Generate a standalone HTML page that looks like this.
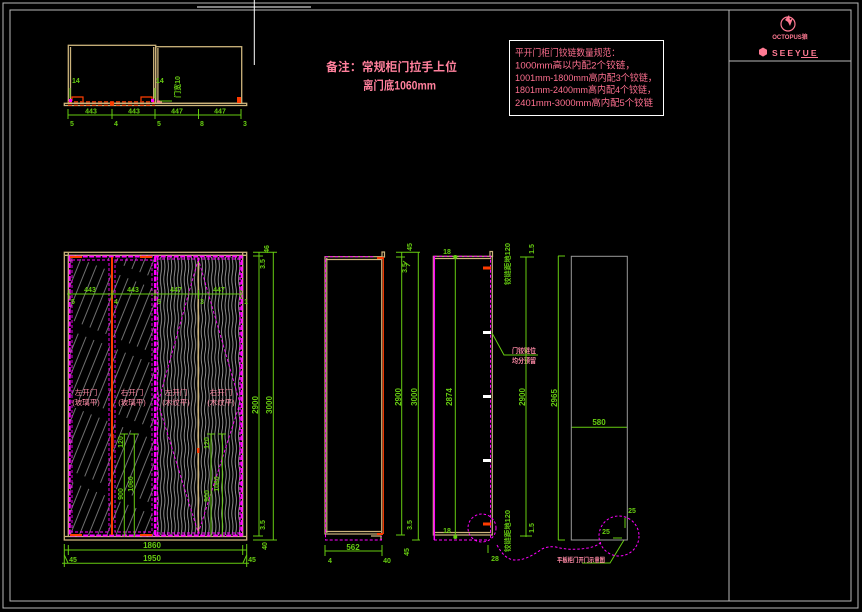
<!DOCTYPE html>
<html><head><meta charset="utf-8">
<style>
html,body{margin:0;padding:0;background:#000;}
svg{display:block;}
text{font-family:"Liberation Sans","Noto Sans CJK SC",sans-serif;}
</style></head>
<body>
<svg width="862" height="612" viewBox="0 0 862 612" xmlns="http://www.w3.org/2000/svg">
<defs>
<pattern id="glass" width="8.5" height="70" patternUnits="userSpaceOnUse" patternTransform="rotate(22)">
<line x1="2" y1="0" x2="2" y2="60" stroke="#a0a0a0" stroke-width="0.7"/>
</pattern>
<pattern id="wood" width="3.4" height="26" patternUnits="userSpaceOnUse">
<path d="M1.2,0 Q2.4,6.5 1.2,13 Q0,19.5 1.2,26" stroke="#b0b0b0" stroke-width="0.8" fill="none"/>
</pattern>
</defs>
<rect width="862" height="612" fill="#000"/>

<!-- frames -->
<g stroke="#b8b8b8" stroke-width="1" fill="none">
<rect x="3" y="3" width="855" height="605"/>
<rect x="10" y="10" width="841" height="591"/>
<line x1="729" y1="10" x2="729" y2="601"/>
<line x1="729" y1="61" x2="851" y2="61"/>
</g>
<!-- white crosshair -->
<g stroke="#fff" stroke-width="1">
<line x1="197" y1="7" x2="311" y2="7"/>
<line x1="254.3" y1="0" x2="254.3" y2="65"/>
</g>

<!-- logo -->
<g fill="#ff7a93" stroke="#ff7a93">
<circle cx="788" cy="24" r="7" fill="none" stroke-width="1.2"/>
<path d="M785,20 L789,15 L790,20 L793,18 L790,26 L788,22 Z" stroke="none"/>
<text x="790" y="39" font-size="6" font-weight="bold" text-anchor="middle" stroke="none">OCTOPUS狼</text>
<polygon points="763,47.5 767,49.8 767,54.3 763,56.6 759,54.3 759,49.8" stroke="none"/>
<text x="772" y="56" font-size="8.5" font-weight="bold" letter-spacing="2" stroke="none">SEEYUE</text>
<line x1="801" y1="57.5" x2="818" y2="57.5" stroke-width="1"/>
</g>

<!-- note -->
<g fill="#ff809c" font-weight="bold">
<text x="326" y="71" font-size="12" textLength="131" lengthAdjust="spacingAndGlyphs">备注：常规柜门拉手上位</text>
<text x="363" y="89.5" font-size="12" textLength="73" lengthAdjust="spacingAndGlyphs">离门底1060mm</text>
</g>

<!-- hinge spec box -->
<rect x="509.5" y="40.5" width="154" height="75" fill="none" stroke="#fff" stroke-width="1"/>
<g fill="#ff7090" font-size="9.5">
<text x="515" y="56" textLength="105" lengthAdjust="spacingAndGlyphs">平开门柜门铰链数量规范：</text>
<text x="515" y="68.5" textLength="120" lengthAdjust="spacingAndGlyphs">1000mm高以内配2个铰链，</text>
<text x="515" y="81" textLength="142" lengthAdjust="spacingAndGlyphs">1001mm-1800mm高内配3个铰链，</text>
<text x="515" y="93" textLength="141" lengthAdjust="spacingAndGlyphs">1801mm-2400mm高内配4个铰链，</text>
<text x="515" y="106" textLength="138" lengthAdjust="spacingAndGlyphs">2401mm-3000mm高内配5个铰链</text>
</g>

<!-- ========== top plan view ========== -->
<g stroke="#cdb47c" stroke-width="1.3" fill="none">
<rect x="68.3" y="45.3" width="87.4" height="58"/>
<line x1="70.5" y1="47" x2="70.5" y2="103"/>
<line x1="153.7" y1="47" x2="153.7" y2="103"/>
<rect x="155.7" y="46.7" width="86" height="56.6"/>
<line x1="157.9" y1="48" x2="157.9" y2="103"/>
<rect x="64.3" y="103.3" width="182.4" height="2.2"/>
</g>
<g stroke="#ff3c00" stroke-width="1.2" fill="none">
<line x1="68" y1="101.8" x2="155" y2="101.8" stroke-dasharray="4 2"/>
<line x1="68" y1="105.2" x2="155" y2="105.2" stroke-dasharray="4 2"/>
<path d="M72,101 V97 H83 V101 M141,101 V97 H152 V101"/>
</g>
<circle cx="112" cy="103.5" r="2.2" fill="#ff3c00"/>
<rect x="237" y="97" width="4" height="6" fill="#ff3c00"/>
<rect x="157" y="100.5" width="5" height="2" fill="#ff7a93"/>
<rect x="69" y="99" width="3" height="3" fill="#ff00ff"/>
<rect x="151" y="99" width="3" height="3" fill="#ff00ff"/>
<g fill="#66cc11" font-size="7" font-weight="bold">
<text x="72" y="83">14</text>
<text x="156" y="83">14</text>
<text transform="translate(180,87) rotate(-90)" text-anchor="middle" font-size="7">门宽10</text>
</g>
<g stroke="#66cc11" stroke-width="1" fill="none">
<line x1="70" y1="98" x2="70" y2="88"/>
<line x1="155" y1="98" x2="155" y2="88"/>
<line x1="160" y1="101" x2="172" y2="101"/>
<line x1="68" y1="115" x2="241" y2="115"/>
<line x1="68" y1="109" x2="68" y2="119"/>
<line x1="112" y1="109" x2="112" y2="119"/>
<line x1="155" y1="109" x2="155" y2="119"/>
<line x1="198.5" y1="109" x2="198.5" y2="119"/>
<line x1="241" y1="109" x2="241" y2="119"/>
</g>
<g fill="#66cc11" font-size="7" font-weight="bold" text-anchor="middle">
<text x="91" y="113.5">443</text>
<text x="134" y="113.5">443</text>
<text x="177" y="113.5">447</text>
<text x="220" y="113.5">447</text>
<text x="72" y="126">5</text>
<text x="116" y="126">4</text>
<text x="159" y="126">5</text>
<text x="202" y="126">8</text>
<text x="245" y="126">3</text>
</g>

<!-- ========== front elevation ========== -->
<rect x="70" y="258" width="84" height="277" fill="url(#glass)"/>
<rect x="157" y="257" width="84" height="278" fill="url(#wood)"/>
<g stroke="#cdb47c" stroke-width="1.3" fill="none">
<rect x="64.3" y="252.3" width="182.4" height="287.7"/>
<line x1="68.3" y1="253" x2="68.3" y2="536"/>
<line x1="242.7" y1="253" x2="242.7" y2="536"/>
<line x1="65" y1="255.3" x2="246" y2="255.3"/>
<line x1="65" y1="536.5" x2="246" y2="536.5"/>
<line x1="198.3" y1="258" x2="198.3" y2="533" stroke-width="1.6"/>
</g>
<g stroke="#ff00ff" fill="none">
<rect x="69.7" y="256.5" width="172" height="279" stroke-width="2" stroke-dasharray="5 1.5"/>
<line x1="155.2" y1="257" x2="155.2" y2="535" stroke-width="2.5" stroke-dasharray="5 1.5"/>
<line x1="157.5" y1="257" x2="157.5" y2="535" stroke-width="1.2" stroke-dasharray="3 2"/>
<line x1="240" y1="257" x2="240" y2="535" stroke-width="1.2" stroke-dasharray="3 2"/>
<rect x="72" y="260" width="37" height="272" stroke-width="0.9" stroke-dasharray="3 2"/>
<rect x="115" y="260" width="37" height="272" stroke-width="0.9" stroke-dasharray="3 2"/>
<line x1="157" y1="259" x2="241" y2="259" stroke-width="1" stroke-dasharray="3 2"/>
<line x1="157" y1="533" x2="241" y2="533" stroke-width="1" stroke-dasharray="3 2"/>
<path d="M198.3,259 L158,403 L198.3,533 L240,403 Z" stroke-width="0.9" stroke-dasharray="3 2"/>
</g>
<line x1="112" y1="257" x2="112" y2="535" stroke="#ff3c00" stroke-width="2"/>
<rect x="111" y="434" width="2.5" height="14" fill="#ff3c00"/>
<rect x="197" y="448" width="2.5" height="5" fill="#ff3c00"/>
<g fill="#ff3c00">
<rect x="70" y="256" width="12" height="2"/><rect x="140" y="256" width="12" height="2"/>
<rect x="70" y="534" width="12" height="2"/><rect x="140" y="534" width="12" height="2"/>
</g>
<!-- internal dim line -->
<g stroke="#66cc11" stroke-width="1" fill="none">
<line x1="67" y1="294" x2="243" y2="294"/>
<line x1="69" y1="290" x2="69" y2="299"/>
<line x1="112" y1="290" x2="112" y2="299"/>
<line x1="155" y1="290" x2="155" y2="299"/>
<line x1="198.5" y1="290" x2="198.5" y2="299"/>
<line x1="241" y1="290" x2="241" y2="299"/>
<!-- door handle dims -->
<line x1="124.3" y1="434" x2="124.3" y2="537"/>
<line x1="134.3" y1="434" x2="134.3" y2="537"/>
<line x1="120" y1="434" x2="128" y2="434"/>
<line x1="130" y1="434" x2="138" y2="434"/>
<line x1="211" y1="434" x2="211" y2="537"/>
<line x1="222.3" y1="434" x2="222.3" y2="537"/>
<line x1="207" y1="434" x2="215" y2="434"/>
<line x1="218" y1="434" x2="226" y2="434"/>
<!-- right dims -->
<line x1="259" y1="252.3" x2="259" y2="536"/>
<line x1="273.3" y1="252.3" x2="273.3" y2="540"/>
<line x1="253" y1="252.3" x2="277" y2="252.3"/>
<line x1="253" y1="256" x2="263" y2="256"/>
<line x1="253" y1="536" x2="263" y2="536"/>
<line x1="253" y1="540" x2="277" y2="540"/>
<!-- bottom dims -->
<line x1="64.3" y1="550" x2="246.7" y2="550"/>
<line x1="64.3" y1="544" x2="64.3" y2="567"/>
<line x1="68.3" y1="545" x2="68.3" y2="555"/>
<line x1="242.7" y1="545" x2="242.7" y2="555"/>
<line x1="246.7" y1="544" x2="246.7" y2="567"/>
<line x1="62" y1="563.3" x2="249" y2="563.3"/>
<line x1="64.3" y1="555" x2="68" y2="563"/>
<line x1="246.7" y1="555" x2="243" y2="563"/>
</g>
<g fill="#66cc11" font-size="7" font-weight="bold" text-anchor="middle">
<text x="90" y="292">443</text>
<text x="133" y="292">443</text>
<text x="176" y="292">447</text>
<text x="219" y="292">447</text>
<text x="73" y="304">5</text>
<text x="116" y="304">4</text>
<text x="159" y="304">5</text>
<text x="202" y="304">3</text>
<text x="246" y="304">1</text>
<text transform="translate(123,442) rotate(-90)">120</text>
<text transform="translate(123,494) rotate(-90)">900</text>
<text transform="translate(133,484) rotate(-90)">1060</text>
<text transform="translate(209,443) rotate(-90)">120</text>
<text transform="translate(219,484) rotate(-90)">1060</text>
<text transform="translate(209,496) rotate(-90)">900</text>
<text transform="translate(258,405) rotate(-90)" font-size="8">2900</text>
<text transform="translate(272,405) rotate(-90)" font-size="8">3000</text>
<text transform="translate(269,249) rotate(-90)">46</text>
<text transform="translate(265,264) rotate(-90)">3.5</text>
<text transform="translate(265,525) rotate(-90)">3.5</text>
<text transform="translate(267,546) rotate(-90)">40</text>
<text x="152" y="548" font-size="8">1860</text>
<text x="152" y="561" font-size="8">1950</text>
<text x="73" y="562">45</text>
<text x="252" y="562">45</text>
</g>
<g fill="#ff8aa6" font-size="7.5" text-anchor="middle">
<text x="86" y="395">左开门</text><text x="86" y="405">(玻璃平)</text>
<text x="132" y="395">右开门</text><text x="132" y="405">(玻璃平)</text>
<text x="176" y="395">左开门</text><text x="176" y="405">(木纹平)</text>
<text x="221" y="395">右开门</text><text x="221" y="405">(木纹平)</text>
</g>

<!-- ========== side view 1 ========== -->
<g stroke="#cdb47c" stroke-width="1.2" fill="none">
<rect x="325" y="256.7" width="56.7" height="277.3"/>
<line x1="326.8" y1="258" x2="326.8" y2="533"/>
<line x1="326" y1="259.5" x2="381" y2="259.5"/>
<line x1="326" y1="531.5" x2="381" y2="531.5"/>
<rect x="382" y="252" width="2.5" height="5"/>
<path d="M371,536 H381 V540"/>
</g>
<g stroke="#ff00ff" fill="none" stroke-width="1" stroke-dasharray="3 2">
<path d="M373,256.7 H325.5 V540 H381.5 V536"/>
</g>
<line x1="383.3" y1="257" x2="383.3" y2="534" stroke="#ff3c00" stroke-width="1.2"/>
<rect x="377" y="257" width="6" height="2" fill="#ff3c00"/>
<rect x="377" y="533" width="6" height="2" fill="#ff3c00"/>
<g stroke="#66cc11" stroke-width="1" fill="none">
<line x1="401.7" y1="252.3" x2="401.7" y2="535"/>
<line x1="418.3" y1="252.3" x2="418.3" y2="540"/>
<line x1="396" y1="252.3" x2="420" y2="252.3"/>
<line x1="396" y1="257" x2="405" y2="257"/>
<line x1="396" y1="535" x2="405" y2="535"/>
<line x1="412" y1="540" x2="420" y2="540"/>
<line x1="325" y1="551" x2="382" y2="551"/>
<line x1="325" y1="545" x2="325" y2="556"/>
<line x1="382" y1="545" x2="382" y2="556"/>
<line x1="403" y1="261" x2="410" y2="266"/>
</g>
<g fill="#66cc11" font-size="7" font-weight="bold" text-anchor="middle">
<text transform="translate(412,247) rotate(-90)">45</text>
<text transform="translate(407,268) rotate(-90)">3.5</text>
<text transform="translate(401,397) rotate(-90)" font-size="8">2900</text>
<text transform="translate(417,397) rotate(-90)" font-size="8">3000</text>
<text transform="translate(412,525) rotate(-90)">3.5</text>
<text transform="translate(409,552) rotate(-90)">45</text>
<text x="353" y="550" font-size="8">562</text>
<text x="330" y="563">4</text>
<text x="387" y="563">40</text>
</g>

<!-- ========== side view 2 ========== -->
<g stroke="#cdb47c" stroke-width="1.2" fill="none">
<rect x="433.3" y="256.3" width="59" height="278.7"/>
<line x1="434" y1="258.5" x2="491" y2="258.5"/>
<line x1="434" y1="532.5" x2="491" y2="532.5"/>
<rect x="490" y="251.5" width="2.5" height="5"/>
</g>
<g stroke="#ff00ff" fill="none">
<line x1="434.3" y1="256" x2="434.3" y2="540" stroke-width="1.5"/>
<path d="M434,256.3 H490.5 V538 M434,540 H488" stroke-width="1" stroke-dasharray="3 2"/>
</g>
<g stroke="#66cc11" stroke-width="1" fill="#66cc11">
<line x1="455.3" y1="257" x2="455.3" y2="537"/>
<circle cx="455.3" cy="257" r="1.5"/>
<circle cx="455.3" cy="537" r="1.5"/>
</g>
<g fill="#66cc11" font-size="7" font-weight="bold" text-anchor="middle">
<text x="447" y="254">18</text>
<text x="447" y="533">18</text>
<text transform="translate(452,397) rotate(-90)" font-size="8">2874</text>
</g>
<g>
<rect x="483" y="266.5" width="8" height="3" fill="#ff3c00"/>
<rect x="483" y="522.5" width="8" height="3" fill="#ff3c00"/>
<rect x="483" y="331" width="8" height="3" fill="#fff"/>
<rect x="483" y="395" width="8" height="3" fill="#fff"/>
<rect x="483" y="459" width="8" height="3" fill="#fff"/>
</g>
<polyline points="492,333 504,355 538,355" stroke="#66cc11" stroke-width="1" fill="none"/>
<g fill="#ff8aa6" font-size="7" font-weight="bold">
<text x="512" y="353" textLength="24" lengthAdjust="spacingAndGlyphs">门铰链位</text>
<text x="512" y="363" textLength="24" lengthAdjust="spacingAndGlyphs">均分预留</text>
</g>

<!-- ========== right dims / panel ========== -->
<g fill="#66cc11" font-size="7" font-weight="bold" text-anchor="middle">
<text transform="translate(510,264) rotate(-90)" textLength="42" lengthAdjust="spacingAndGlyphs">铰链距地120</text>
<text transform="translate(510,531) rotate(-90)" textLength="42" lengthAdjust="spacingAndGlyphs">铰链距地120</text>
<text transform="translate(534,249) rotate(-90)">1.5</text>
<text transform="translate(534,528) rotate(-90)">1.5</text>
<text transform="translate(525,397) rotate(-90)" font-size="8">2900</text>
<text transform="translate(557,398) rotate(-90)" font-size="8">2965</text>
<text x="599" y="425" font-size="8">580</text>
<text x="632" y="513">25</text>
<text x="606" y="534">25</text>
<text x="495" y="561">28</text>
</g>
<g stroke="#66cc11" stroke-width="1" fill="none">
<line x1="526" y1="257" x2="526" y2="537"/>
<line x1="520" y1="257" x2="534" y2="257"/>
<line x1="520" y1="536" x2="532" y2="536"/>
<line x1="558.3" y1="256" x2="558.3" y2="540"/>
<line x1="558" y1="256" x2="565" y2="256"/>
<line x1="558" y1="540" x2="565" y2="540"/>
<line x1="571.3" y1="427.3" x2="627.3" y2="427.3"/>
<polyline points="582,563 610,563 624,540"/>
<line x1="488" y1="545" x2="488" y2="553"/>
<line x1="613" y1="538" x2="622" y2="538"/>
<line x1="625" y1="518" x2="625" y2="528"/>
</g>
<rect x="571.3" y="256.3" width="56" height="283.7" fill="none" stroke="#9a9a9a" stroke-width="1"/>
<g stroke="#ff00ff" stroke-width="1" fill="none" stroke-dasharray="2.5 2">
<circle cx="482" cy="528" r="14"/>
<circle cx="619" cy="536" r="20"/>
<path d="M497,545 Q505,560 515,560 Q525,561 542,549 Q548,546 556,547 Q570,551 588,548 Q598,546 601,542"/>
</g>
<text x="557" y="562" font-size="6.5" font-weight="bold" fill="#ff8aa6" textLength="48" lengthAdjust="spacingAndGlyphs">平板柜门开门示意图</text>
</svg>
</body></html>
